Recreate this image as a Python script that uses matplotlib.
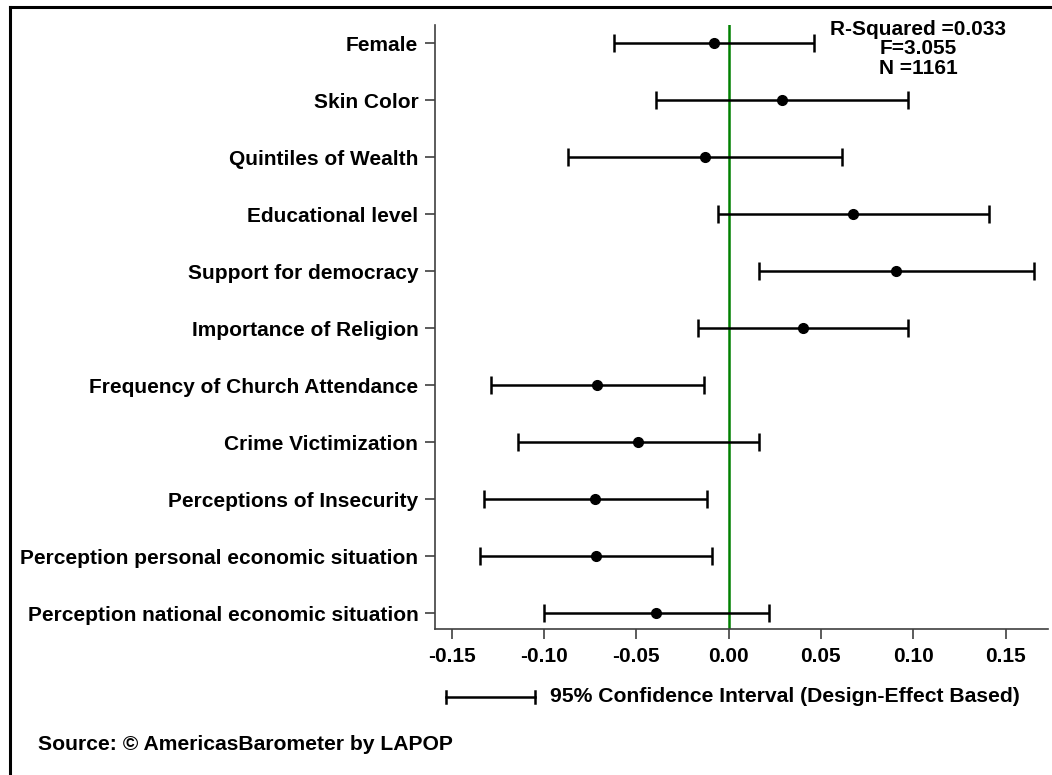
import matplotlib.pyplot as plt
from matplotlib.lines import Line2D
import numpy as np

plt.rcParams['font.family'] = ['Liberation Sans', 'DejaVu Sans']
plt.rcParams['font.weight'] = 'bold'

labels = ['Female', 'Skin Color', 'Quintiles of Wealth', 'Educational level',
          'Support for democracy', 'Importance of Religion',
          'Frequency of Church Attendance', 'Crime Victimization',
          'Perceptions of Insecurity', 'Perception personal economic situation',
          'Perception national economic situation']
coef = [-0.0079, 0.0289, -0.0128, 0.0675, 0.0906, 0.0405,
        -0.0712, -0.0489, -0.0723, -0.0719, -0.0393]
lower = [-0.0619, -0.0394, -0.0868, -0.0059, 0.0163, -0.0167,
         -0.1288, -0.1138, -0.1322, -0.1347, -0.1000]
upper = [0.0460, 0.0973, 0.0617, 0.1408, 0.1652, 0.0973,
         -0.0133, 0.0165, -0.0117, -0.0088, 0.0221]
xticks = [-0.15, -0.10, -0.05, 0.00, 0.05, 0.10, 0.15]
stats = 'R-Squared =0.033\nF=3.055\nN =1161'

coef = np.array(coef)
err = [coef - np.array(lower), np.array(upper) - coef]
ypos = np.arange(len(labels))

fig = plt.figure(figsize=(10.52, 7.75), dpi=100)
ax = fig.add_axes([435/1052, 1 - 629/775, (1048 - 435)/1052, (629 - 25)/775])

ax.axvline(0, color='#008000', lw=1.8, zorder=1)
ax.errorbar(coef, ypos, xerr=err, fmt='o', color='black', ms=7,
            elinewidth=1.8, capsize=6.5, capthick=1.8, zorder=3)

ax.set_xlim(-0.159, 0.173)
ax.set_ylim(10.28, -0.316)
ax.set_yticks(ypos)
ax.set_yticklabels(labels)
ax.set_xticks(xticks)
ax.set_xticklabels(['%.2f' % t for t in xticks])
ax.tick_params(axis='both', labelsize=15, length=7, width=1.2, color='#404040')
ax.tick_params(axis='x', pad=6)
ax.tick_params(axis='y', pad=5)
for s in ['top', 'right']:
    ax.spines[s].set_visible(False)
for s in ['left', 'bottom']:
    ax.spines[s].set_color('#404040')
    ax.spines[s].set_linewidth(1.2)

fig.text(918/1052, 1 - 20/775, stats, ha='center', va='top', fontsize=15,
         linespacing=1.02, fontweight='bold')

# legend sample for the confidence interval
ly = 1 - 697/775
x0, x1 = 446/1052, 535/1052
ch = 6/775
fig.add_artist(Line2D([x0, x1], [ly, ly], color='black', lw=1.8))
fig.add_artist(Line2D([x0, x0], [ly - ch, ly + ch], color='black', lw=1.8))
fig.add_artist(Line2D([x1, x1], [ly - ch, ly + ch], color='black', lw=1.8))
fig.text(550/1052, ly, '95% Confidence Interval (Design-Effect Based)',
         ha='left', va='center', fontsize=15.2, fontweight='bold')

fig.text(38/1052, 1 - 745/775, 'Source: \u00a9 AmericasBarometer by LAPOP',
         ha='left', va='center', fontsize=15.2, fontweight='bold')

# outer frame (top and left edges)
fig.add_artist(Line2D([10/1052, 10/1052], [0, 1 - 7/775], color='black', lw=2.2))
fig.add_artist(Line2D([10/1052, 1], [1 - 7/775, 1 - 7/775], color='black', lw=2.2))

fig.savefig('out.png', dpi=100)
